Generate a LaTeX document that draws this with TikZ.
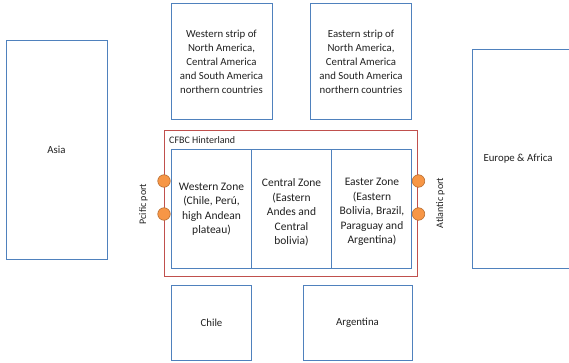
\documentclass[tikz,border=0pt]{standalone}
\usepackage{fontspec}
\setmainfont{Carlito}
\definecolor{bl}{HTML}{4F81BD}
\definecolor{rd}{HTML}{C0504D}
\definecolor{og}{HTML}{F79646}
\definecolor{ogd}{HTML}{B66D31}
\definecolor{tx}{HTML}{202020}
\begin{document}
\begin{tikzpicture}[x=1pt,y=-1pt,
  box/.style={draw=bl, line width=1pt, rectangle, inner sep=0pt, outer sep=0pt, align=center, text=tx, font=\fontsize{10.8}{14}\selectfont},
  zone/.style={box, font=\fontsize{11.5}{14.5}\selectfont},
  hint/.style={draw=rd, line width=1pt, rectangle, inner sep=0pt, outer sep=0pt},
  port/.style={circle, fill=og, draw=ogd, line width=0.6pt, minimum size=12.5pt, inner sep=0pt},
  lbl/.style={text=tx, font=\fontsize{10}{11}\selectfont, inner sep=0pt}]
\useasboundingbox (0,0) rectangle (569,363);
\clip (0,0) rectangle (569,363);
% outer continents
\node[box, minimum width=101pt, minimum height=218pt] (asia) at (56.5,150) {Asia};
\node[box, minimum width=110pt, minimum height=218pt, anchor=north west] (eu) at (472,50) {};
\node[text=tx, font=\fontsize{10.8}{14}\selectfont] (eut) at (518,159) {Europe \& Africa};
% strips
\node[box, minimum width=101pt, minimum height=116pt] (ws) at (221.5,62) {Western strip of\\North America,\\Central America\\and South America\\northern countries};
\node[box, minimum width=101pt, minimum height=116pt] (es) at (361,62) {Eastern strip of\\North America,\\Central America\\and South America\\northern countries};
% hinterland
\node[hint, minimum width=253pt, minimum height=146pt] (hl) at (290.5,203.5) {};
\node[lbl, anchor=west] (hlt) at (169,140) {CFBC Hinterland};
% zones
\node[zone, minimum width=80pt, minimum height=118pt] (wz) at (211.5,209) {Western Zone\\(Chile, Perú,\\high Andean\\plateau)};
\node[zone, minimum width=80pt, minimum height=118pt, anchor=north west] (cz) at (wz.north east) {};
\node[zone, minimum width=80pt, minimum height=118pt, anchor=north west] (ez) at (cz.north east) {};
\node[text=tx, font=\fontsize{11.5}{14.5}\selectfont, align=center, anchor=north] (czt) at (291.5,175) {Central Zone\\(Eastern\\Andes and\\Central\\bolivia)};
\node[text=tx, font=\fontsize{11.5}{14.5}\selectfont, align=center, anchor=north] (ezt) at (372,175) {Easter Zone\\(Eastern\\Bolivia, Brazil,\\Paraguay and\\Argentina)};
% bottom
\node[box, minimum width=80pt, minimum height=75pt] (ch) at (211.5,322.5) {Chile};
\node[box, minimum width=109pt, minimum height=75pt] (ar) at (357.5,322.5) {Argentina};
% ports
\node[port] (p1) at (164,181) {};
\node[port] (p2) at (164,214) {};
\node[port] (p3) at (418.5,181) {};
\node[port] (p4) at (418.5,214) {};
\node[lbl, rotate=90] (pp) at (143.5,204) {Pcific port};
\node[lbl, rotate=90] (ap) at (440.5,203) {Atlantic port};
\end{tikzpicture}
\end{document}
